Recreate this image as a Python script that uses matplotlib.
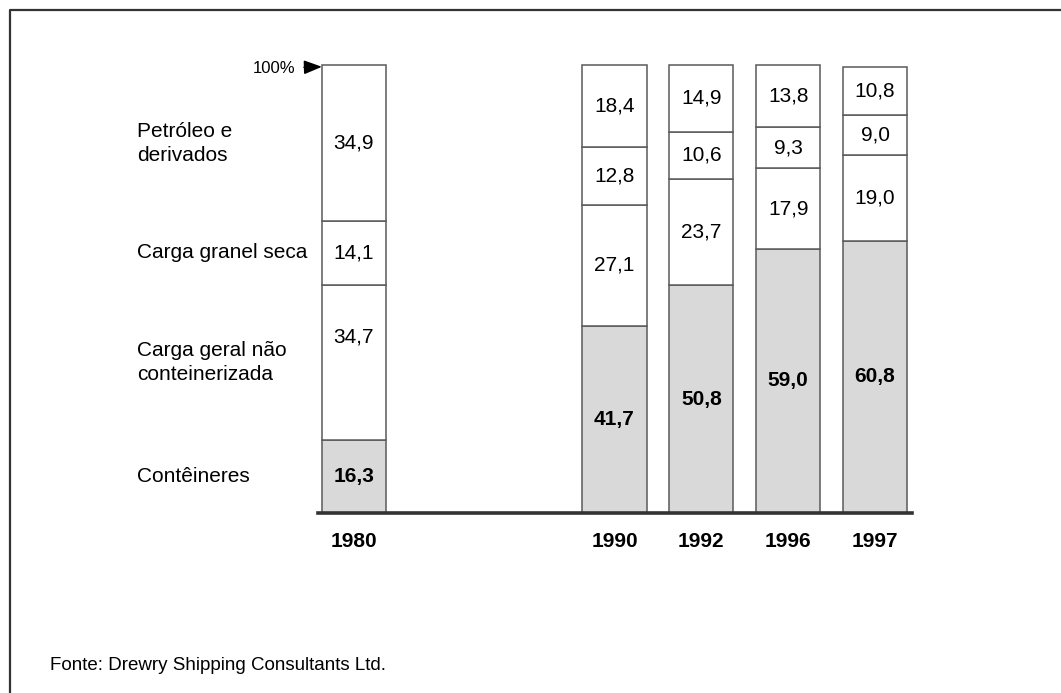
import numpy as np
import matplotlib.pyplot as plt
from matplotlib.lines import Line2D

plt.rcParams['font.family'] = ['Liberation Sans', 'DejaVu Sans']

# dados (%)
anos = ['1980', '1990', '1992', '1996', '1997']
conteineres = [16.3, 41.7, 50.8, 59.0, 60.8]
carga_geral = [34.7, 27.1, 23.7, 17.9, 19.0]
granel_seca = [14.1, 12.8, 10.6, 9.3, 9.0]
petroleo = [34.9, 18.4, 14.9, 13.8, 10.8]
categorias = ['Contêineres', 'Carga geral não\nconteinerizada', 'Carga granel seca', 'Petróleo e\nderivados']

# posições (1980 separado dos outros)
pos = np.array([0, 3, 4, 5, 6])
largura = 0.737

fig = plt.figure(figsize=(10.61, 6.93), dpi=100)
ax = fig.add_axes([317.5 / 1061, 180 / 693, 594 / 1061, 448 / 693])

series = [conteineres, carga_geral, granel_seca, petroleo]
cores = ['#d9d9d9', 'white', 'white', 'white']
base = np.zeros(len(anos))
for k, (vals, cor) in enumerate(zip(series, cores)):
    vals = np.array(vals)
    ax.bar(pos, vals, largura, bottom=base, color=cor, edgecolor='#5a5a5a',
           linewidth=1.1, clip_on=False, zorder=2)
    for i in range(len(anos)):
        y = base[i] + vals[i] / 2
        if k == 1 and i == 0:
            y += 5.6
        txt = ('%.1f' % vals[i]).replace('.', ',')
        ax.text(pos[i], y, txt, ha='center', va='center', fontsize=15,
                fontweight='bold' if k == 0 else 'normal', zorder=3)
    # rótulos das categorias à esquerda, alinhados com a barra de 1980
    ax.text(-2.5, base[0] + vals[0] / 2, categorias[k], ha='left', va='center',
            fontsize=15, linespacing=1.35, clip_on=False)
    base = base + vals

for p, a in zip(pos, anos):
    ax.text(p, -6.3, a, ha='center', va='center', fontsize=15, fontweight='bold')

ax.annotate('100%', xy=(-largura / 2, 99.6), xytext=(-0.67, 99.3),
            ha='right', va='center', fontsize=12,
            arrowprops=dict(arrowstyle='-|>,head_length=0.9,head_width=0.35',
                            color='black', lw=1.2, shrinkA=4, shrinkB=0))

ax.set_xlim(-0.42, 6.42)
ax.set_ylim(0, 100)
for s in ['top', 'right', 'left']:
    ax.spines[s].set_visible(False)
ax.spines['bottom'].set_linewidth(2.6)
ax.spines['bottom'].set_color('#333333')
ax.spines['bottom'].set_zorder(4)
ax.set_xticks([])
ax.set_yticks([])

# moldura
fx = 10 / 1061
fy = 1 - 10 / 693
fig.add_artist(Line2D([fx, fx, 1.0], [0.0, fy, fy], transform=fig.transFigure,
                      color='#333333', lw=1.6))

fig.text(50 / 1061, 1 - 665 / 693, 'Fonte: Drewry Shipping Consultants Ltd.',
         fontsize=13.5, va='center', ha='left')

plt.savefig('out.png', dpi=100)
